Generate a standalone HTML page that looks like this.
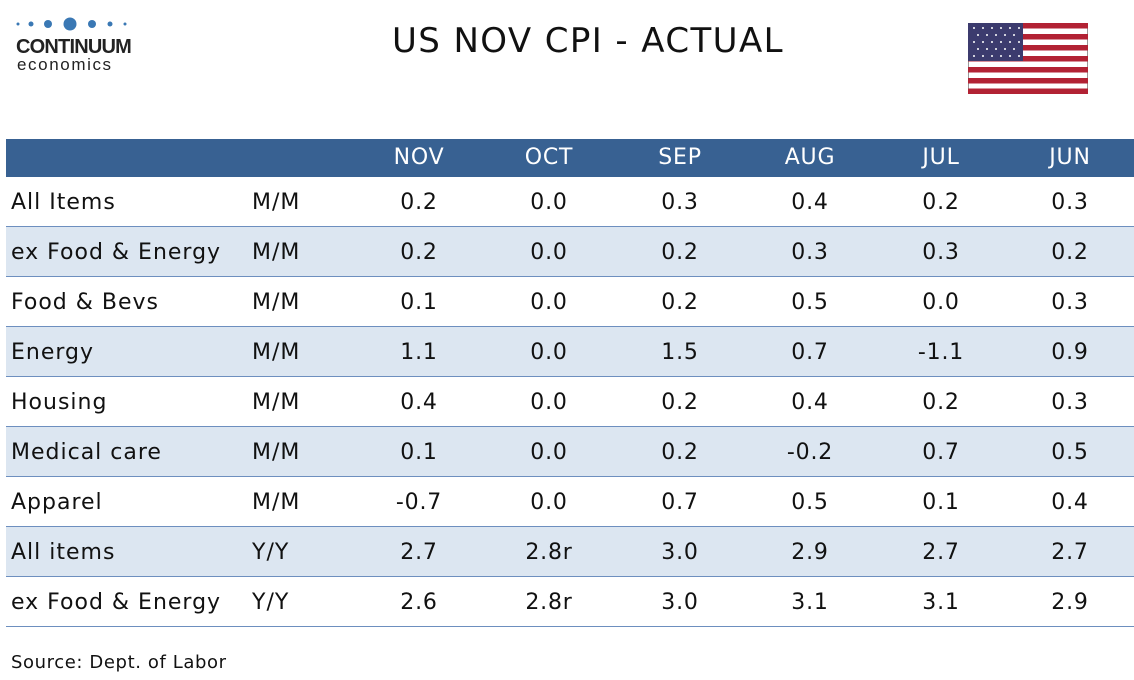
<!DOCTYPE html>
<html><head><style>
body{margin:0;width:1134px;height:680px;background:#fff;position:relative;font-family:"DejaVu Sans","Liberation Sans",sans-serif;overflow:hidden}
.t{position:absolute;white-space:nowrap}
.row{position:absolute;left:6px;width:1128px;height:49px;border-bottom:1px solid #6d8fbf}
.c{position:absolute;font-size:22px;letter-spacing:0.8px;color:#111;transform:translateX(-50%);top:13px}
.l{position:absolute;font-size:22px;letter-spacing:1px;color:#111;top:13px}
</style></head><body>
<svg class="t" style="left:14px;top:16px" width="120" height="16">
<circle cx="4" cy="8" r="1.5" fill="#3a78b4"/><circle cx="17" cy="8" r="2.5" fill="#3a78b4"/><circle cx="34" cy="8" r="4" fill="#3a78b4"/><circle cx="56" cy="8" r="6.5" fill="#3a78b4"/><circle cx="78" cy="8" r="4" fill="#3a78b4"/><circle cx="96" cy="8" r="2.5" fill="#3a78b4"/><circle cx="111" cy="8" r="1.5" fill="#3a78b4"/>
</svg>
<div class="t" style="left:16px;top:36px;font-size:20px;font-weight:bold;color:#222;letter-spacing:-0.8px;font-family:'Liberation Sans',sans-serif">CONTINUUM</div>
<div class="t" style="left:17px;top:55px;font-size:17px;color:#222;letter-spacing:1.6px;font-family:'Liberation Sans',sans-serif">economics</div>
<div class="t" style="left:392px;top:21px;font-size:34px;letter-spacing:1.4px;color:#111">US NOV CPI - ACTUAL</div>
<svg class="t" style="left:968px;top:23px" width="120" height="71">
<rect width="120" height="71" fill="#fff" stroke="#333"/>
<g fill="#b22234"><rect y="0" width="120" height="5.5"/><rect y="11" width="120" height="5.5"/><rect y="22" width="120" height="5.5"/><rect y="33" width="120" height="5.5"/><rect y="44" width="120" height="5.5"/><rect y="55" width="120" height="5.5"/><rect y="65.5" width="120" height="5.5"/></g>
<rect width="55" height="38" fill="#3c3b6e"/>
<g fill="#fff"><circle cx="6" cy="5" r="1"/><circle cx="15" cy="5" r="1"/><circle cx="24" cy="5" r="1"/><circle cx="33" cy="5" r="1"/><circle cx="42" cy="5" r="1"/><circle cx="51" cy="5" r="1"/>
<circle cx="10" cy="12" r="1"/><circle cx="19" cy="12" r="1"/><circle cx="28" cy="12" r="1"/><circle cx="37" cy="12" r="1"/><circle cx="46" cy="12" r="1"/>
<circle cx="6" cy="19" r="1"/><circle cx="15" cy="19" r="1"/><circle cx="24" cy="19" r="1"/><circle cx="33" cy="19" r="1"/><circle cx="42" cy="19" r="1"/><circle cx="51" cy="19" r="1"/>
<circle cx="10" cy="26" r="1"/><circle cx="19" cy="26" r="1"/><circle cx="28" cy="26" r="1"/><circle cx="37" cy="26" r="1"/><circle cx="46" cy="26" r="1"/>
<circle cx="6" cy="33" r="1"/><circle cx="15" cy="33" r="1"/><circle cx="24" cy="33" r="1"/><circle cx="33" cy="33" r="1"/><circle cx="42" cy="33" r="1"/><circle cx="51" cy="33" r="1"/></g>
</svg>
<div class="t" style="left:6px;top:139px;width:1128px;height:38px;background:#386192"></div>
<div class="c" style="left:419px;top:145px;color:#fff">NOV</div>
<div class="c" style="left:549px;top:145px;color:#fff">OCT</div>
<div class="c" style="left:680px;top:145px;color:#fff">SEP</div>
<div class="c" style="left:810px;top:145px;color:#fff">AUG</div>
<div class="c" style="left:941px;top:145px;color:#fff">JUL</div>
<div class="c" style="left:1070px;top:145px;color:#fff">JUN</div>

<div class="row" style="top:177px;background:#fff"><span class="l" style="left:5px">All Items</span><span class="l" style="left:246px">M/M</span><span class="c" style="left:413px">0.2</span><span class="c" style="left:543px">0.0</span><span class="c" style="left:674px">0.3</span><span class="c" style="left:804px">0.4</span><span class="c" style="left:935px">0.2</span><span class="c" style="left:1064px">0.3</span></div>
<div class="row" style="top:227px;background:#dce6f1"><span class="l" style="left:5px">ex Food &amp; Energy</span><span class="l" style="left:246px">M/M</span><span class="c" style="left:413px">0.2</span><span class="c" style="left:543px">0.0</span><span class="c" style="left:674px">0.2</span><span class="c" style="left:804px">0.3</span><span class="c" style="left:935px">0.3</span><span class="c" style="left:1064px">0.2</span></div>
<div class="row" style="top:277px;background:#fff"><span class="l" style="left:5px">Food &amp; Bevs</span><span class="l" style="left:246px">M/M</span><span class="c" style="left:413px">0.1</span><span class="c" style="left:543px">0.0</span><span class="c" style="left:674px">0.2</span><span class="c" style="left:804px">0.5</span><span class="c" style="left:935px">0.0</span><span class="c" style="left:1064px">0.3</span></div>
<div class="row" style="top:327px;background:#dce6f1"><span class="l" style="left:5px">Energy</span><span class="l" style="left:246px">M/M</span><span class="c" style="left:413px">1.1</span><span class="c" style="left:543px">0.0</span><span class="c" style="left:674px">1.5</span><span class="c" style="left:804px">0.7</span><span class="c" style="left:935px">-1.1</span><span class="c" style="left:1064px">0.9</span></div>
<div class="row" style="top:377px;background:#fff"><span class="l" style="left:5px">Housing</span><span class="l" style="left:246px">M/M</span><span class="c" style="left:413px">0.4</span><span class="c" style="left:543px">0.0</span><span class="c" style="left:674px">0.2</span><span class="c" style="left:804px">0.4</span><span class="c" style="left:935px">0.2</span><span class="c" style="left:1064px">0.3</span></div>
<div class="row" style="top:427px;background:#dce6f1"><span class="l" style="left:5px">Medical care</span><span class="l" style="left:246px">M/M</span><span class="c" style="left:413px">0.1</span><span class="c" style="left:543px">0.0</span><span class="c" style="left:674px">0.2</span><span class="c" style="left:804px">-0.2</span><span class="c" style="left:935px">0.7</span><span class="c" style="left:1064px">0.5</span></div>
<div class="row" style="top:477px;background:#fff"><span class="l" style="left:5px">Apparel</span><span class="l" style="left:246px">M/M</span><span class="c" style="left:413px">-0.7</span><span class="c" style="left:543px">0.0</span><span class="c" style="left:674px">0.7</span><span class="c" style="left:804px">0.5</span><span class="c" style="left:935px">0.1</span><span class="c" style="left:1064px">0.4</span></div>
<div class="row" style="top:527px;background:#dce6f1"><span class="l" style="left:5px">All items</span><span class="l" style="left:246px">Y/Y</span><span class="c" style="left:413px">2.7</span><span class="c" style="left:543px">2.8r</span><span class="c" style="left:674px">3.0</span><span class="c" style="left:804px">2.9</span><span class="c" style="left:935px">2.7</span><span class="c" style="left:1064px">2.7</span></div>
<div class="row" style="top:577px;background:#fff"><span class="l" style="left:5px">ex Food &amp; Energy</span><span class="l" style="left:246px">Y/Y</span><span class="c" style="left:413px">2.6</span><span class="c" style="left:543px">2.8r</span><span class="c" style="left:674px">3.0</span><span class="c" style="left:804px">3.1</span><span class="c" style="left:935px">3.1</span><span class="c" style="left:1064px">2.9</span></div>

<div class="t" style="left:11px;top:652px;font-size:18px;letter-spacing:0.6px;color:#111">Source: Dept. of Labor</div>
</body></html>
